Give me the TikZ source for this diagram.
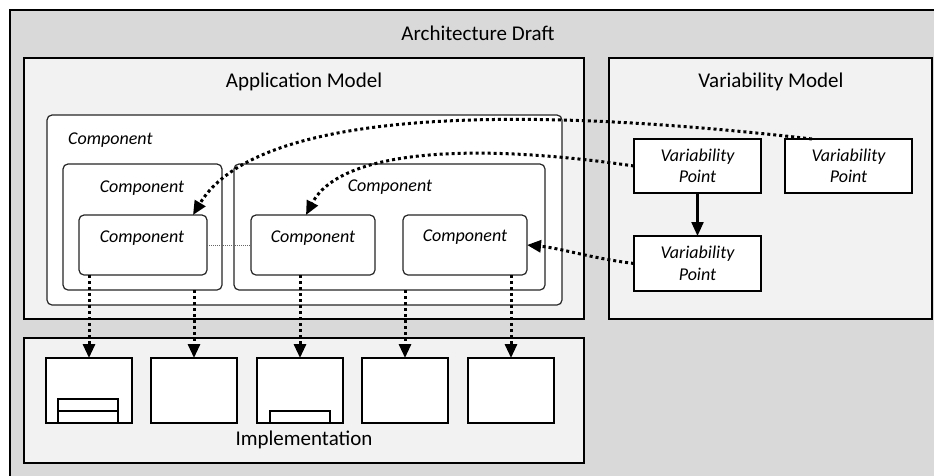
\documentclass[tikz,border=0pt]{standalone}
\usepackage{fontspec}
\setmainfont{Carlito}
\usetikzlibrary{arrows.meta}
\begin{document}
\begin{tikzpicture}[x=1pt,y=-1pt,
  box/.style={inner sep=0pt, outer sep=0pt, anchor=north west},
  areabox/.style={box, draw=black, line width=2pt, fill=areafill},
  comp/.style={box, draw=black!85, line width=1.2pt, rounded corners=5pt, fill=white},
  vpbox/.style={box, draw=black, line width=1.3pt, fill=white, align=center,
    font=\fontsize{18}{21.5}\selectfont\itshape},
  implbox/.style={box, draw=black, line width=1.1pt, fill=white},
  title/.style={font=\fontsize{21}{25}\selectfont, inner sep=0pt},
  clabel/.style={font=\fontsize{18}{21.5}\selectfont\itshape, inner sep=0pt},
  link/.style={line width=3pt, dash pattern=on 3pt off 3pt,
    -{Triangle[length=14pt,width=12pt]}},
  solidlink/.style={line width=2.2pt, -{Triangle[length=14pt,width=12pt]}},
  faint/.style={draw=black!60, line width=0.8pt, dash pattern=on 1pt off 1pt}
]
\definecolor{areafill}{HTML}{F2F2F2}
\definecolor{draftfill}{HTML}{D9D9D9}
\useasboundingbox (0,0) rectangle (934,475);
\clip (0,0) rectangle (934,475);

% architecture draft frame
\node[box, draw=black, line width=2pt, fill=draftfill,
  minimum width=940pt, minimum height=480pt] (draft) at (10,10) {};
\node[title] (drafttitle) at (478,33) {Architecture Draft};

% the three areas
\node[areabox, minimum width=560pt, minimum height=261pt] (appm) at (24,58) {};
\node[title] (appmtitle) at (304,82) {Application Model};
\node[areabox, minimum width=323pt, minimum height=261pt] (varm) at (609,58) {};
\node[title] (varmtitle) at (771,82) {Variability Model};
\node[areabox, minimum width=560pt, minimum height=125pt] (impl) at (24,338) {};
\node[title] (impltitle) at (304,440) {Implementation};

% nested components
\node[comp, minimum width=515pt, minimum height=190pt] (compA) at (47,115) {};
\node[clabel, anchor=west] (labA) at (68,140) {Component};
\node[comp, minimum width=159pt, minimum height=126pt] (compB) at (63,164) {};
\node[clabel] (labB) at (142,188) {Component};
\node[comp, minimum width=311pt, minimum height=126pt] (compC) at (234,164) {};
\node[clabel] (labC) at (390,187) {Component};
\node[comp, minimum width=128pt, minimum height=60pt] (compD) at (79,215) {};
\node[clabel] (labD) at (142,238) {Component};
\node[comp, minimum width=124pt, minimum height=60pt] (compE) at (251,215) {};
\node[clabel] (labE) at (313,238) {Component};
\node[comp, minimum width=124pt, minimum height=60pt] (compF) at (403,215) {};
\node[clabel] (labF) at (465,237) {Component};

% variability points
\node[vpbox, minimum width=127pt, minimum height=54pt] (vp1) at (634,139) {Variability\\Point};
\node[vpbox, minimum width=127pt, minimum height=54pt] (vp2) at (785,139) {Variability\\Point};
\node[vpbox, minimum width=127pt, minimum height=55pt] (vp3) at (634,236) {Variability\\Point};

% implementation artefacts
\foreach \i/\x in {1/46,2/151,3/257,4/362,5/468}
  \node[implbox, minimum width=86pt, minimum height=65pt] (i\i) at (\x,358) {};
\node[implbox, minimum width=60pt, minimum height=12pt] (i1a) at (58,399) {};
\node[implbox, minimum width=60pt, minimum height=12pt] (i1b) at (58,411) {};
\node[implbox, minimum width=60pt, minimum height=12pt] (i3a) at (270,411) {};

% connectors
\draw[faint] (compD.east) -- (compE.west);
\draw[solidlink] (vp1.south) -- (vp3.north);
\draw[link] ([xshift=27pt]vp2.north west) .. controls (500,103) and (255,112) .. ([xshift=-14pt]compD.north east);
\draw[link] (vp1.west) .. controls (470,142) and (340,150) .. ([xshift=-7pt]compE.north);
\draw[link] (vp3.west) .. controls (590,258) and (560,248) .. (compF.east);

\draw[link] (i1.north |- compD.south) -- (i1.north);
\draw[link] (i2.north |- compB.south) -- (i2.north);
\draw[link] (i3.north |- compE.south) -- (i3.north);
\draw[link] (i4.north |- compC.south) -- (i4.north);
\draw[link] (i5.north |- compF.south) -- (i5.north);
\end{tikzpicture}
\end{document}
